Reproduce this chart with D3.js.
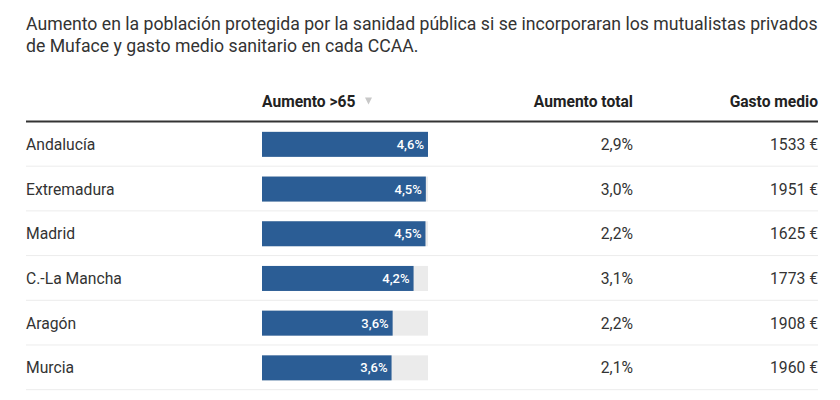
<!DOCTYPE html>
<html><head><meta charset="utf-8">
<script src="https://cdn.jsdelivr.net/npm/d3@7"></script>
<style>
html,body{margin:0;padding:0;background:#fff;}
svg{display:block;font-family:Roboto,"Noto Sans",sans-serif;}
</style></head>
<body>
<svg id="chart" width="840" height="400"></svg>
<script>
const titleLines = [
  "Aumento en la población protegida por la sanidad pública si se incorporaran los mutualistas privados",
  "de Muface y gasto medio sanitario en cada CCAA."
];
const columnHeaders = ["Aumento >65", "Aumento total", "Gasto medio"];
const regions = ["Andalucía", "Extremadura", "Madrid", "C.-La Mancha", "Aragón", "Murcia"];
const aumento65 = [4.6, 4.54, 4.53, 4.2, 3.62, 3.59];
const aumentoTotal = [2.9, 3.0, 2.2, 3.1, 2.2, 2.1];
const gastoMedio = [1533, 1951, 1625, 1773, 1908, 1960];

const svg = d3.select("#chart");
const left = 26, right = 818;
const barX0 = 262, barX1 = 428;
const colTotalX = 633;
const textColor = "#333";

// title
const titleText = svg.append("g").selectAll("text").data(titleLines).join("text")
  .attr("x", left).attr("y", (d, i) => 30 + i * 22)
  .attr("font-size", 17.5).attr("fill", textColor)
  .text(d => d);
const w0 = titleText.nodes()[0].getComputedTextLength();
if (w0 > 0) titleText.attr("font-size", 17.5 * (right - left) / w0);

// header
const hdrY = 107;
const hdrSize = 15.6;
const h0 = svg.append("text").attr("x", barX0).attr("y", hdrY)
  .attr("font-size", hdrSize).attr("font-weight", 700).attr("fill", "#222")
  .text(columnHeaders[0]);
const hdr0w = h0.node().getComputedTextLength();
const tx = barX0 + hdr0w + 13;
svg.append("path")
  .attr("d", `M${tx - 3.5},${hdrY - 9.5}L${tx + 3.5},${hdrY - 9.5}L${tx},${hdrY - 2.5}Z`)
  .attr("fill", "#c8c8c8");
svg.append("text").attr("x", colTotalX).attr("y", hdrY).attr("text-anchor", "end")
  .attr("font-size", hdrSize).attr("font-weight", 700).attr("fill", "#222")
  .text(columnHeaders[1]);
svg.append("text").attr("x", right).attr("y", hdrY).attr("text-anchor", "end")
  .attr("font-size", hdrSize).attr("font-weight", 700).attr("fill", "#222")
  .text(columnHeaders[2]);

svg.append("line").attr("x1", left).attr("x2", right).attr("y1", 121.5).attr("y2", 121.5)
  .attr("stroke", "#333").attr("stroke-width", 2);

// rows
const y = d3.scaleBand().domain(regions).range([122, 122 + 44.7 * regions.length]).paddingInner(0).paddingOuter(0);
const x = d3.scaleLinear().domain([0, d3.max(aumento65)]).range([barX0, barX1]);
const fmt1 = v => d3.format(".1f")(v).replace(".", ",");

const rows = svg.append("g").selectAll("g").data(regions).join("g")
  .attr("transform", d => `translate(0,${y(d)})`);
const bh = y.bandwidth();
const fs = 15.7;

rows.append("line").attr("x1", left).attr("x2", right)
  .attr("y1", bh - 0.5).attr("y2", bh - 0.5)
  .attr("stroke", "#ececec").attr("stroke-width", 1);

rows.append("text").attr("x", left).attr("y", bh / 2 + 5.5)
  .attr("font-size", fs).attr("fill", textColor).text(d => d);

rows.append("rect").attr("x", barX0).attr("y", bh / 2 - 12.5)
  .attr("width", barX1 - barX0).attr("height", 25).attr("fill", "#ebebeb");
rows.append("rect").attr("x", barX0).attr("y", bh / 2 - 12.5)
  .attr("width", (d, i) => x(aumento65[i]) - barX0).attr("height", 25).attr("fill", "#2b5d95");
rows.append("text").attr("x", (d, i) => x(aumento65[i]) - 4).attr("y", bh / 2 + 4.5)
  .attr("text-anchor", "end").attr("font-size", 13).attr("font-weight", 500).attr("fill", "#fff")
  .text((d, i) => fmt1(aumento65[i]) + "%");

rows.append("text").attr("x", colTotalX).attr("y", bh / 2 + 5.5).attr("text-anchor", "end")
  .attr("font-size", fs).attr("fill", textColor)
  .text((d, i) => fmt1(aumentoTotal[i]) + "%");
rows.append("text").attr("x", right).attr("y", bh / 2 + 5.5).attr("text-anchor", "end")
  .attr("font-size", fs).attr("fill", textColor)
  .text((d, i) => gastoMedio[i] + " €");
</script>
</body></html>
